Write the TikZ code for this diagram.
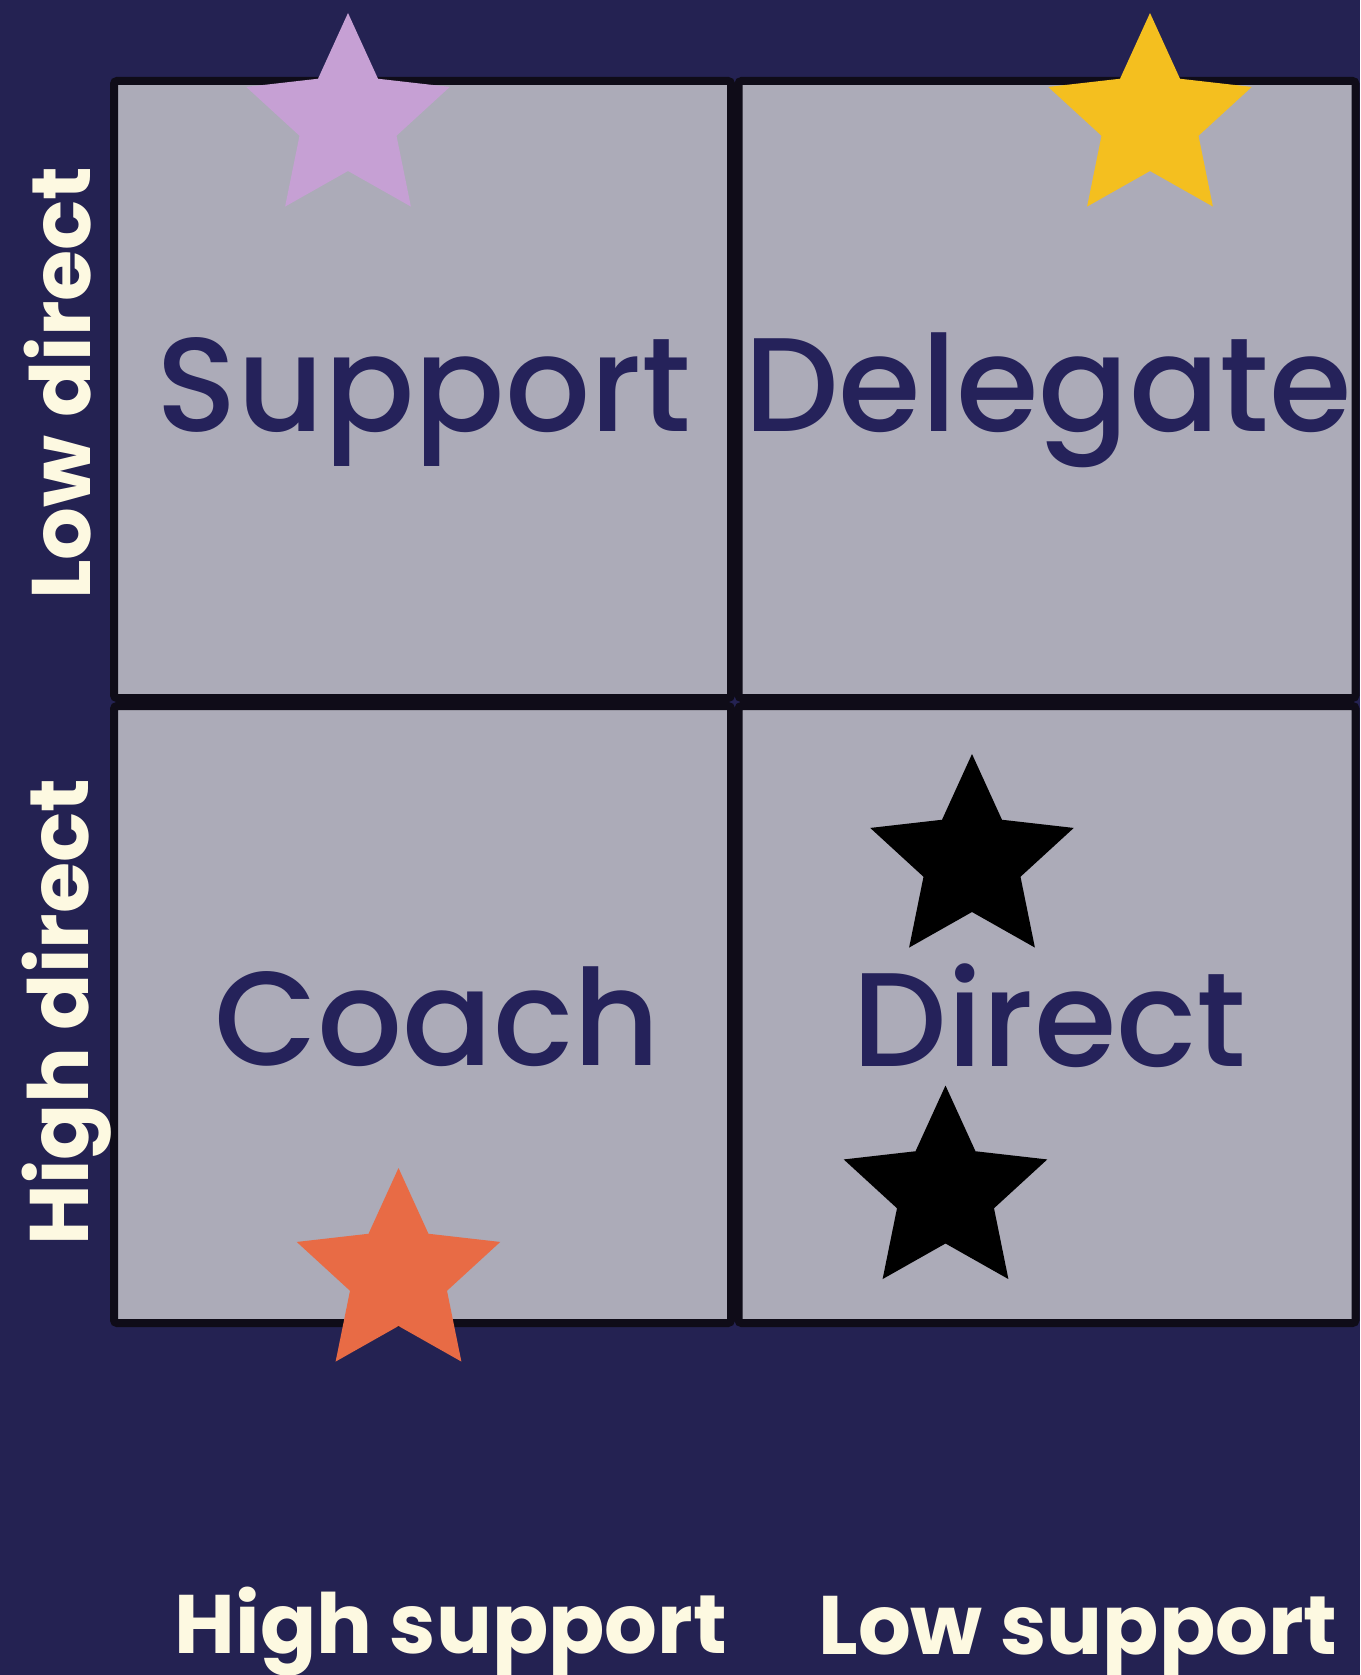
\documentclass[tikz,border=0pt]{standalone}
\usepackage{fontspec}
\setmainfont{Poppins}
\newfontfamily\pmed{Poppins Medium}
\newfontfamily\pbold{Poppins Bold}
\definecolor{bgc}{HTML}{242252}
\definecolor{cellc}{HTML}{ACABB8}
\definecolor{edgec}{HTML}{0F0C18}
\definecolor{quadtxt}{HTML}{25225A}
\definecolor{labtxt}{HTML}{FDF9E1}
\definecolor{lilac}{HTML}{C6A0D4}
\definecolor{goldc}{HTML}{F4BF1F}
\definecolor{orangec}{HTML}{E86B45}
\tikzset{
  cell/.style={draw=edgec, fill=cellc, line width=8pt, rounded corners=3pt,
    minimum width=617pt, minimum height=617pt, inner sep=0pt},
  quad/.style={text=quadtxt, font=\pmed\fontsize{133.5}{133.5}\selectfont, anchor=base, inner sep=0pt},
  axlab/.style={text=labtxt, font=\pbold\fontsize{83}{83}\selectfont, anchor=base, inner sep=0pt},
}
\newcommand{\mystar}[4]{%
  \fill[#4, shift={(#2,#3)}] (-90:107) -- (-54:51) -- (-18:107) -- (18:51) -- (54:107)
    -- (90:51) -- (126:107) -- (162:51) -- (198:107) -- (234:51) -- cycle;
  \coordinate (#1) at (#2,#3);}
\begin{document}
\begin{tikzpicture}[x=1pt,y=-1pt]
  \fill[bgc] (0,0) rectangle (1360,1675);
  \useasboundingbox (0,0) rectangle (1360,1675);
  % cells
  \node[cell] (tl) at (422.5,389.5) {};
  \node[cell] (tr) at (1047,389.5) {};
  \node[cell] (bl) at (422.5,1014.5) {};
  \node[cell] (br) at (1047,1014.5) {};
  % quadrant texts
  \node[quad] (support) at (424,431) {Support};
  \node[quad] (delegate) at (1048,431.5) {Delegate};
  \node[quad] (coach) at (437,1065) {Coach};
  \node[quad] (direct) at (1049.5,1066) {Direct};
  % stars
  \mystar{s1}{348}{120}{lilac}
  \mystar{s2}{1150}{120}{goldc}
  \mystar{s3}{398.5}{1275}{orangec}
  \mystar{s4}{972}{861}{black}
  \mystar{s5}{945.5}{1192.5}{black}
  % axis labels
  \node[axlab, rotate=90] (lowdirect) at (90.5,383) {Low direct};
  \node[axlab, rotate=90] (highdirect) at (88,1012) {High direct};
  \node[axlab] (highsupport) at (451,1653.5) {High support};
  \node[axlab] (lowsupport) at (1078,1654) {Low support};
\end{tikzpicture}
\end{document}
